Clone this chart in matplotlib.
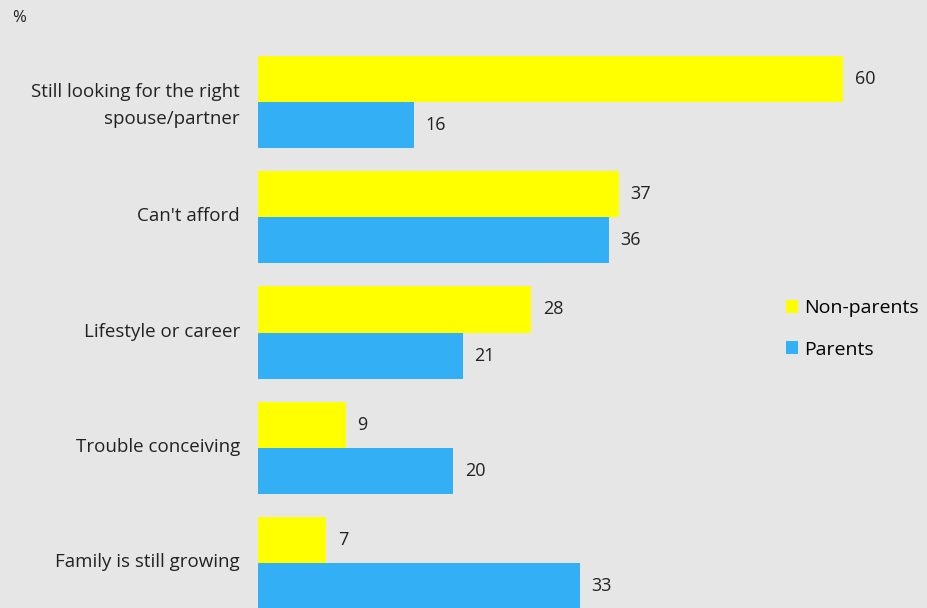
import matplotlib.pyplot as plt
import numpy as np

categories = ["Still looking for the right\nspouse/partner", "Can't afford",
              "Lifestyle or career", "Trouble conceiving", "Family is still growing"]
non_parents = [60, 37, 28, 9, 7]
parents = [16, 36, 21, 20, 33]

bg = '#e6e6e6'
yellow = '#ffff00'
blue = '#33b0f5'
plt.rcParams['font.family'] = ['Open Sans', 'DejaVu Sans']

fig = plt.figure(figsize=(9.28, 6.08), dpi=100, facecolor=bg)
ax = fig.add_axes([258 / 928, 0, 670 / 928, 1], facecolor=bg)

y = np.arange(len(categories))
h = 0.4
b1 = ax.barh(y - h / 2, non_parents, height=h, color=yellow, label='Non-parents')
b2 = ax.barh(y + h / 2, parents, height=h, color=blue, label='Parents')

for bars, vals in [(b1, non_parents), (b2, parents)]:
    for bar, v in zip(bars, vals):
        ax.text(v + 1.2, bar.get_y() + bar.get_height() / 2, str(v),
                va='center', ha='left', fontsize=13, color='#222222')

ax.set_xlim(0, 670 / 9.75)
ax.set_ylim(4 + 45 / 115.2, -102 / 115.2)
ax.set_yticks(y - 0.025)
ax.set_yticklabels(categories, fontsize=13.5, color='#222222', linespacing=1.6)
ax.tick_params(axis='y', length=0, pad=13)
ax.set_xticks([])
for s in ax.spines.values():
    s.set_visible(False)

fig.text(12 / 928, 1 - 18 / 608, '%', fontsize=12, va='center', ha='left', color='#222222')

fig.legend(handles=[b1, b2], loc='center left', bbox_to_anchor=(778 / 928, 1 - 329 / 608),
           frameon=False, fontsize=14, handlelength=0.65, handleheight=0.65,
           handletextpad=0.3, labelspacing=1.2, borderaxespad=0)

fig.savefig('out.png', dpi=100, facecolor=bg)
